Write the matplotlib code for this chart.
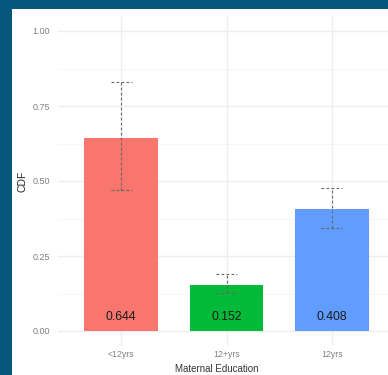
import matplotlib
matplotlib.use("Agg")
import matplotlib.pyplot as plt
from matplotlib.patches import Rectangle

# Data
categories = ["<12yrs", "12+yrs", "12yrs"]
cdf_values = [0.644, 0.152, 0.408]
ci_lower = [0.470, 0.126, 0.344]
ci_upper = [0.831, 0.189, 0.476]
bar_colors = ["#F8766D", "#00BA38", "#619CFF"]
y_ticks = [0.00, 0.25, 0.50, 0.75, 1.00]
y_tick_labels = ["0.00", "0.25", "0.50", "0.75", "1.00"]

W, H = 388, 375
DPI = 100
font = ["Liberation Sans", "DejaVu Sans"]

fig = plt.figure(figsize=(W / DPI, H / DPI), dpi=DPI)
fig.patch.set_facecolor("#05587c")

# white card behind the chart
fig.patches.append(Rectangle((12 / W, 0), 1 - 12 / W, 1 - 9 / H,
                             transform=fig.transFigure, facecolor="white",
                             edgecolor="none", zorder=-1))

left, right = 58 / W, 395 / W
top, bottom = 1 - 16 / H, 1 - 346 / H
ax = fig.add_axes([left, bottom, right - left, top - bottom])
ax.set_zorder(1)
ax.set_facecolor("none")

x = list(range(1, len(categories) + 1))
ax.set_xlim(0.4, 3.6)
ax.set_ylim(-0.05, 1.05)

# grid
for v in [0.125, 0.375, 0.625, 0.875]:
    ax.axhline(v, color="#f5f5f5", lw=0.6, zorder=0)
for v in y_ticks:
    ax.axhline(v, color="#eeeeee", lw=1.0, zorder=0)
for xi in x:
    ax.axvline(xi, color="#eeeeee", lw=1.0, zorder=0)

ax.bar(x, cdf_values, width=0.7, color=bar_colors, zorder=2)

# dashed error bars
cap = 0.1
for xi, lo, hi in zip(x, ci_lower, ci_upper):
    kw = dict(color="#666666", lw=0.8, ls=(0, (2.5, 2)), zorder=3)
    ax.plot([xi, xi], [lo, hi], **kw)
    ax.plot([xi - cap, xi + cap], [lo, lo], **kw)
    ax.plot([xi - cap, xi + cap], [hi, hi], **kw)

for xi, v in zip(x, cdf_values):
    ax.text(xi, 0.047, f"{v:.3f}", ha="center", va="center",
            fontsize=8.8, color="#1a1a1a", family=font, zorder=4)

ax.set_xticks(x)
ax.set_xticklabels(categories, family=font, fontsize=6.3, color="#808080")
ax.set_yticks(y_ticks)
ax.set_yticklabels(y_tick_labels, family=font, fontsize=6.5, color="#808080")
ax.tick_params(axis="y", length=0, pad=6)
ax.tick_params(axis="x", length=0, pad=3)
for s in ax.spines.values():
    s.set_visible(False)

fig.text(217 / W, 1 - 369 / H, "Maternal Education", ha="center", va="center",
         fontsize=7, color="#333333", family=font)
fig.text(23 / W, 1 - 181 / H, "CDF", ha="center", va="center", rotation=90,
         fontsize=7.5, color="#222222", family=font)

fig.savefig("out.png", dpi=DPI)
